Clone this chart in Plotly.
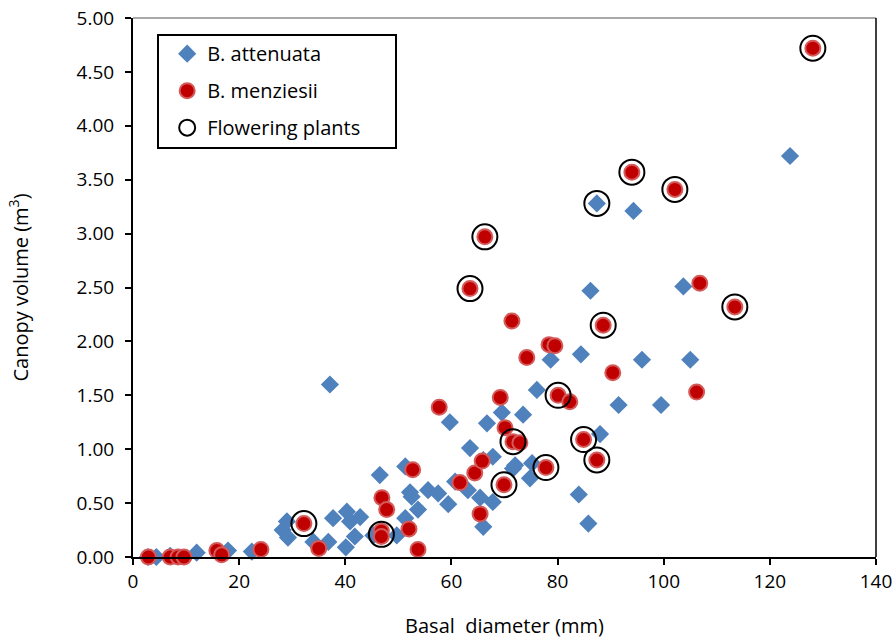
import plotly.graph_objects as go

# B. attenuata
att_x = [2.8, 4.4, 7.0, 12.0, 17.9, 22.4, 29.0, 28.2, 29.2, 34.0, 36.8, 37.7, 40.3, 40.9,
         42.8, 41.8, 40.1, 37.1, 46.5, 45.3, 49.7, 51.3, 52.2, 52.5, 53.7, 51.3, 55.6, 57.5,
         59.4, 59.7, 60.7, 63.5, 63.1, 65.4, 66.0, 67.8, 66.7, 69.5, 66.0, 67.8, 71.6, 72.0,
         73.5, 76.1, 75.2, 74.8, 78.7, 84.4, 86.2, 87.4, 94.3, 103.7, 95.9, 105.0, 91.5,
         99.5, 88.0, 84.0, 85.8, 123.8]
att_y = [0.00, 0.00, 0.01, 0.04, 0.06, 0.05, 0.33, 0.25, 0.18, 0.14, 0.14, 0.36, 0.42, 0.33,
         0.37, 0.19, 0.09, 1.60, 0.76, 0.20, 0.20, 0.84, 0.60, 0.56, 0.44, 0.36, 0.62, 0.59,
         0.49, 1.25, 0.70, 1.01, 0.62, 0.55, 0.28, 0.51, 1.24, 1.34, 0.90, 0.93, 0.82, 0.85,
         1.32, 1.55, 0.87, 0.73, 1.83, 1.88, 2.47, 3.28, 3.21, 2.51, 1.83, 1.83, 1.41,
         1.41, 1.14, 0.58, 0.31, 3.72]

# B. menziesii
men_x = [2.9, 7.0, 8.5, 9.6, 15.8, 16.7, 24.1, 32.2, 35.0, 46.9, 47.8, 46.8, 46.8, 52.0,
         52.7, 53.7, 57.7, 61.6, 64.4, 65.8, 65.4, 69.2, 70.1, 71.6, 72.9, 69.9, 77.8, 71.4,
         74.2, 78.4, 79.5, 80.1, 82.3, 84.9, 87.4, 90.4, 88.6, 63.5, 66.3, 94.0, 102.1,
         106.8, 106.2, 113.4, 128.1]
men_y = [0.00, 0.00, 0.00, 0.00, 0.06, 0.02, 0.07, 0.31, 0.08, 0.55, 0.44, 0.24, 0.19, 0.26,
         0.81, 0.07, 1.39, 0.69, 0.78, 0.89, 0.40, 1.48, 1.20, 1.07, 1.06, 0.67, 0.83, 2.19,
         1.85, 1.97, 1.96, 1.50, 1.44, 1.09, 0.90, 1.71, 2.15, 2.49, 2.97, 3.57, 3.41,
         2.54, 1.53, 2.32, 4.72]

# Flowering plants
flw_x = [32.2, 46.8, 63.5, 66.3, 71.6, 69.9, 77.8, 80.1, 84.9, 87.4, 88.6, 94.0, 102.1,
         113.4, 128.1, 87.4]
flw_y = [0.31, 0.21, 2.49, 2.97, 1.07, 0.67, 0.83, 1.50, 1.09, 0.90, 2.15, 3.57, 3.41,
         2.32, 4.72, 3.28]

x_ticks = [0, 20, 40, 60, 80, 100, 120, 140]
y_ticks = [0, 0.5, 1.0, 1.5, 2.0, 2.5, 3.0, 3.5, 4.0, 4.5, 5.0]

FONT = "Open Sans"

fig = go.Figure()
fig.add_trace(go.Scatter(
    x=att_x, y=att_y, mode="markers", name="B. attenuata", legendgroup="a",
    marker=dict(symbol="diamond", size=14, color="#4F81BD", line=dict(width=0)),
    cliponaxis=False))
fig.add_trace(go.Scatter(
    x=men_x, y=men_y, mode="markers", name="B. menziesii", legendgroup="m",
    marker=dict(symbol="circle", size=15, color="#C00000",
                line=dict(width=2, color="#D45A5A")),
    cliponaxis=False))
fig.add_trace(go.Scatter(
    x=flw_x, y=flw_y, mode="markers", name="Flowering plants", legendgroup="f",
    marker=dict(symbol="circle-open", size=25, color="black", line=dict(width=2)),
    cliponaxis=False))

fig.update_layout(
    width=893, height=639,
    margin=dict(l=133, r=17, t=18, b=82),
    paper_bgcolor="white", plot_bgcolor="white",
    font=dict(family=FONT, size=19, color="black"),
    showlegend=True,
    legend=dict(x=0.046, y=0.970, xanchor="left", yanchor="top",
                bgcolor="rgba(0,0,0,0)", borderwidth=0,
                traceorder="grouped", tracegroupgap=8,
                font=dict(family=FONT, size=20), itemsizing="trace"),
    xaxis=dict(range=[0, 140], tickvals=x_ticks, showgrid=False, zeroline=False,
               showline=True, linecolor="black", linewidth=2, automargin=False,
               ticks="outside", ticklen=6, tickwidth=2, tickcolor="black",
               tickfont=dict(size=19),
               title=dict(text="Basal\u00a0 diameter (mm)", font=dict(size=20), standoff=27)),
    yaxis=dict(range=[0, 5], tickvals=y_ticks, tickformat=".2f", showgrid=False,
               zeroline=False, showline=True, linecolor="black", linewidth=2,
               automargin=False,
               ticks="outside", ticklen=6, tickwidth=2, tickcolor="black",
               tickfont=dict(size=19), ticklabelstandoff=7,
               title=dict(text="Canopy volume (m<sup>3</sup>)", font=dict(size=20), standoff=43)),
    shapes=[
        dict(type="line", xref="paper", yref="paper", x0=0, x1=1, y0=1, y1=1,
             line=dict(color="#8C8C8C", width=1.5)),
        dict(type="line", xref="paper", yref="paper", x0=1, x1=1, y0=0, y1=1,
             line=dict(color="black", width=1.5)),
        dict(type="rect", xref="paper", yref="paper",
             x0=(158 - 133) / 743, x1=(396 - 133) / 743,
             y0=(557 - 148) / 539, y1=(557 - 35) / 539,
             line=dict(color="black", width=2), fillcolor="rgba(0,0,0,0)"),
    ],
)

fig.write_html("out.html")
